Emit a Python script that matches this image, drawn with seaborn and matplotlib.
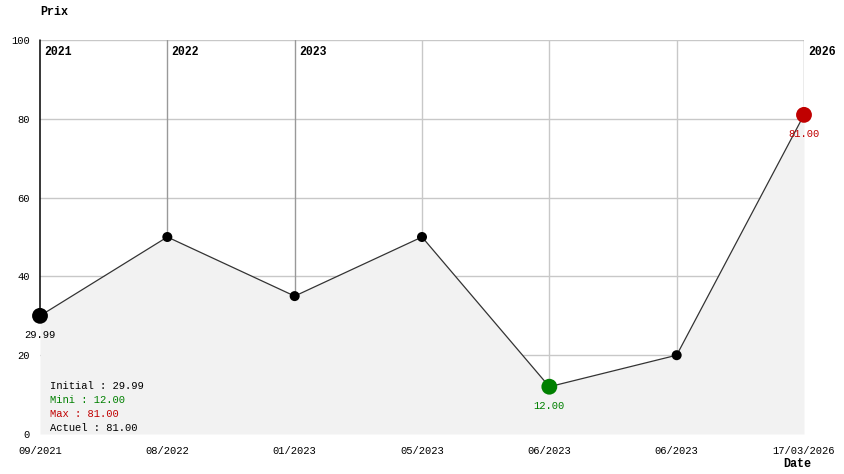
import numpy as np
import pandas as pd
import matplotlib
matplotlib.use("Agg")
import matplotlib.pyplot as plt
import seaborn as sns

# data
dates = ["09/2021", "08/2022", "01/2023", "05/2023", "06/2023", "06/2023", "17/03/2026"]
prices = [29.99, 50.0, 35.0, 50.0, 12.0, 20.0, 81.0]
year_marks = {0: "2021", 1: "2022", 2: "2023", 6: "2026"}
y_ticks = [0, 20, 40, 60, 80, 100]
summary = [("Initial : 29.99", "black"), ("Mini : 12.00", "#008000"),
           ("Max : 81.00", "#c00000"), ("Actuel : 81.00", "black")]

df = pd.DataFrame({"pos": np.arange(len(dates)), "date": dates, "prix": prices})

sns.set_theme(style="white")
plt.rcParams["font.family"] = ["Liberation Mono", "DejaVu Sans Mono"]
plt.rcParams["font.size"] = 7.6
plt.rcParams["text.color"] = "black"
plt.rcParams["xtick.color"] = "black"
plt.rcParams["ytick.color"] = "black"

fig = plt.figure(figsize=(8.44, 4.74), dpi=100)
ax = fig.add_axes([40 / 844, 40 / 474, 764 / 844, 394 / 474])

# grid (drawn beneath the fill)
for y in y_ticks[1:]:
    ax.axhline(y, color="#c8c8c8", lw=1, zorder=0)
for i in df["pos"]:
    if i == 0:
        # y axis line, only visible above the filled area
        ax.plot([0, 0], [prices[0], 100], color="black", lw=1.1, zorder=0.6, clip_on=False)
        continue
    col = "#999999" if i in year_marks else "#c8c8c8"
    ax.axvline(i, color=col, lw=1, zorder=0.5)

ax.fill_between(df["pos"], df["prix"], 0, color="#f2f2f2", lw=0, zorder=1)
sns.lineplot(data=df, x="pos", y="prix", color="#333333", lw=0.9, ax=ax, zorder=2)
sns.scatterplot(data=df.iloc[1:-1], x="pos", y="prix", color="black", s=52,
                edgecolor="none", ax=ax, zorder=3)

i_min = int(df["prix"].idxmin())
i_max = int(df["prix"].idxmax())
ax.scatter([0], [prices[0]], s=130, color="black", edgecolor="none", zorder=4, clip_on=False)
ax.scatter([i_min], [prices[i_min]], s=130, color="#008000", edgecolor="none", zorder=4, clip_on=False)
ax.scatter([i_max], [prices[i_max]], s=130, color="#c00000", edgecolor="none", zorder=4, clip_on=False)

ax.annotate(f"{prices[0]:.2f}", (0, prices[0]), xytext=(0, -10), textcoords="offset points",
            ha="center", va="top", color="black", zorder=5)
ax.annotate(f"{prices[i_min]:.2f}", (i_min, prices[i_min]), xytext=(0, -10),
            textcoords="offset points", ha="center", va="top", color="#008000", zorder=5)
ax.annotate(f"{prices[i_max]:.2f}", (i_max, prices[i_max]), xytext=(0, -10),
            textcoords="offset points", ha="center", va="top", color="#c00000", zorder=5)

for i, yr in year_marks.items():
    ax.annotate(yr, (i, 100), xytext=(3, -4), textcoords="offset points",
                ha="left", va="top", fontweight="bold", fontsize=8.3, zorder=5)

for k, (txt, col) in enumerate(summary):
    ax.text(10 / 764, 48 / 394 - k * 14 / 394, txt, transform=ax.transAxes,
            color=col, ha="left", va="center", zorder=5)

ax.set_xlim(0, len(dates) - 1)
ax.set_ylim(0, 100)
ax.set_xticks(df["pos"])
ax.set_xticklabels(dates)
ax.set_yticks(y_ticks)
ax.tick_params(axis="both", length=0, labelsize=7.6)
ax.tick_params(axis="x", pad=8.5)
ax.tick_params(axis="y", pad=7.5)
ax.set_xlabel("")
ax.set_ylabel("")
for s in ax.spines.values():
    s.set_visible(False)

fig.text(40 / 844, 1 - 12 / 474, "Prix", fontweight="bold", ha="left", va="center", fontsize=8.5)
fig.text(783 / 844, 1 - 464 / 474, "Date", fontweight="bold", ha="left", va="center", fontsize=8.5)

fig.savefig("out.png", dpi=100)
